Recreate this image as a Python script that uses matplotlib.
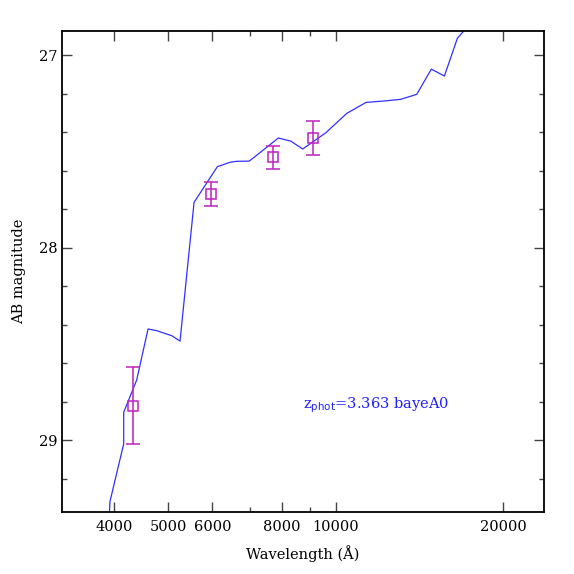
import matplotlib

matplotlib.use("Agg")
import matplotlib.pyplot as plt
from matplotlib.ticker import FixedLocator, NullFormatter, FixedFormatter

plt.rcParams["font.family"] = ["DejaVu Serif"]

# template SED
sed_wave = [3911, 3926, 4156, 4156, 4386, 4597, 4766, 5070, 5248, 5562, 6125,
            6456, 6637, 6991, 7885, 8300, 8721, 9594, 10467, 11336, 12176,
            13090, 13986, 14855, 15680, 16547, 16963, 17438]
sed_mag = [29.42, 29.32, 29.02, 28.856, 28.688, 28.423, 28.432, 28.458, 28.486,
           27.765, 27.580, 27.557, 27.552, 27.551, 27.431, 27.447, 27.488,
           27.404, 27.303, 27.246, 27.239, 27.230, 27.204, 27.073, 27.109,
           26.913, 26.877, 26.818]

# photometry
phot_wave = [4325, 5966, 7722, 9091]
phot_mag = [28.822, 27.722, 27.531, 27.431]
phot_err = [0.20, 0.06, 0.06, 0.09]

xticks_major = [4000, 5000, 6000, 8000, 10000, 20000]
xticks_minor = [7000, 9000]
yticks_major = [27, 28, 29]
label = r"z$_{\rm phot}$=3.363 bayeA0"

fig = plt.figure(figsize=(5.74, 5.74), dpi=100)
ax = fig.add_axes([0.108, 0.108, 0.840, 0.838])

ax.plot(sed_wave, sed_mag, color="#3030ff", lw=0.9)
ax.errorbar(phot_wave, phot_mag, yerr=phot_err, fmt="s", mfc="none",
            mec="#c020c0", ecolor="#c020c0", ms=7, mew=1.1, elinewidth=1.1,
            capsize=4.8, capthick=1.1)
ax.text(8733, 28.818, label, color="#2020ff", fontsize=10.5, va="center")

ax.set_xscale("log")
ax.set_xlim(3219, 23700)
ax.set_ylim(29.374, 26.875)

ax.xaxis.set_major_locator(FixedLocator(xticks_major))
ax.xaxis.set_major_formatter(FixedFormatter([str(t) for t in xticks_major]))
ax.xaxis.set_minor_locator(FixedLocator(xticks_minor))
ax.xaxis.set_minor_formatter(NullFormatter())
ax.yaxis.set_major_locator(FixedLocator(yticks_major))
ax.yaxis.set_minor_locator(FixedLocator([27.2, 27.4, 27.6, 27.8, 28.2, 28.4,
                                         28.6, 28.8, 29.2]))

ax.tick_params(which="both", direction="in", top=True, right=True,
               labelsize=10.5, width=1.0, color="#444444")
ax.tick_params(which="major", length=7)
ax.tick_params(which="minor", length=3.5)
ax.tick_params(axis="x", which="major", pad=6)
for s in ax.spines.values():
    s.set_linewidth(1.3)

ax.set_xlabel("Wavelength (Å)", fontsize=10.5, labelpad=8)
ax.set_ylabel("AB magnitude", fontsize=10.5, labelpad=9)

fig.savefig("out.png", dpi=100)
plt.close(fig)
